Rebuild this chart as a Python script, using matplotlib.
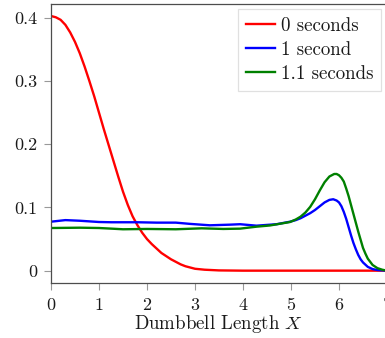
import matplotlib
matplotlib.use("Agg")
import matplotlib.pyplot as plt

plt.rcParams["font.family"] = "serif"
plt.rcParams["font.serif"] = ["cmr10", "DejaVu Serif"]
plt.rcParams["mathtext.fontset"] = "cm"
plt.rcParams["axes.unicode_minus"] = False

# Distribution of dumbbell length at three times
x_t0 = [0.0, 0.1, 0.2, 0.3, 0.4, 0.5, 0.6, 0.7, 0.8, 0.9, 1.0, 1.1, 1.2, 1.3,
        1.4, 1.5, 1.6, 1.7, 1.8, 1.9, 2.0, 2.1, 2.2, 2.3, 2.4, 2.5, 2.6, 2.7,
        2.8, 2.9, 3.0, 3.2, 3.5, 4.0, 7.0]
y_t0 = [0.403, 0.401, 0.397, 0.389, 0.377, 0.362, 0.344, 0.323, 0.300, 0.276,
        0.250, 0.224, 0.199, 0.174, 0.149, 0.125, 0.104, 0.086, 0.072, 0.060,
        0.050, 0.042, 0.035, 0.028, 0.023, 0.018, 0.014, 0.010, 0.007, 0.005,
        0.003, 0.0015, 0.0004, 0.0, 0.0]

x_t1 = [0.0, 0.3, 0.6, 1.0, 1.26, 1.8, 2.2, 2.6, 2.9, 3.31, 3.73, 3.94, 4.28,
        4.7, 4.98, 5.1, 5.2, 5.3, 5.4, 5.5, 5.6, 5.7, 5.8, 5.88, 5.95, 6.0,
        6.05, 6.1, 6.15, 6.2, 6.25, 6.3, 6.35, 6.4, 6.45, 6.5, 6.6, 6.7, 6.8,
        7.0]
y_t1 = [0.0775, 0.080, 0.079, 0.077, 0.0766, 0.0766, 0.076, 0.076, 0.074,
        0.0718, 0.0728, 0.0735, 0.0712, 0.0735, 0.0775, 0.080, 0.083, 0.087,
        0.091, 0.096, 0.102, 0.108, 0.112, 0.113, 0.111, 0.108, 0.102, 0.093,
        0.082, 0.069, 0.056, 0.044, 0.034, 0.025, 0.018, 0.013, 0.006, 0.0025,
        0.001, 0.0]

x_t11 = [0.0, 0.6, 1.0, 1.26, 1.5, 2.0, 2.6, 3.14, 3.59, 3.94, 4.28, 4.56,
         4.98, 5.1, 5.2, 5.3, 5.4, 5.5, 5.6, 5.7, 5.8, 5.9, 5.95, 6.0, 6.05,
         6.1, 6.15, 6.2, 6.25, 6.3, 6.35, 6.4, 6.45, 6.5, 6.55, 6.6, 6.7, 6.8,
         6.9, 7.0]
y_t11 = [0.0675, 0.068, 0.0675, 0.0665, 0.0655, 0.066, 0.0655, 0.067, 0.066,
         0.0665, 0.0696, 0.0715, 0.077, 0.081, 0.0855, 0.092, 0.101, 0.113,
         0.127, 0.140, 0.149, 0.153, 0.153, 0.151, 0.147, 0.141, 0.130, 0.118,
         0.104, 0.090, 0.076, 0.062, 0.049, 0.036, 0.027, 0.019, 0.009, 0.004,
         0.0015, 0.0]

series_labels = ["0 seconds", "1 second", "1.1 seconds"]
x_ticks = [0, 1, 2, 3, 4, 5, 6, 7]
y_ticks = [0, 0.1, 0.2, 0.3, 0.4]
y_tick_labels = ["0", "0.1", "0.2", "0.3", "0.4"]

fig = plt.figure(figsize=(3.85, 3.38), dpi=100)
ax = fig.add_axes([51 / 385, 1 - 283.3 / 338, 336 / 385, 279.3 / 338])

lw = 1.7
ax.plot(x_t0, y_t0, color="#ff0000", lw=lw, label=series_labels[0])
ax.plot(x_t1, y_t1, color="#0000ff", lw=lw, label=series_labels[1])
ax.plot(x_t11, y_t11, color="#008000", lw=lw, label=series_labels[2])

ax.set_xlim(0, 7)
ax.set_ylim(-0.02, 0.422)
ax.set_xticks(x_ticks)
ax.set_xticklabels([str(t) for t in x_ticks])
ax.set_yticks(y_ticks)
ax.set_yticklabels(y_tick_labels)

fs = 13
ax.tick_params(direction="out", length=5, width=0.8, color="0.6",
               labelsize=fs, pad=5, labelcolor="0.1")
for s in ax.spines.values():
    s.set_color("0.3")
    s.set_linewidth(0.9)

ax.set_xlabel("Dumbbell Length $X$", fontsize=13.6, labelpad=0, color="0.1")

leg = ax.legend(loc="upper left", bbox_to_anchor=(0.556, 0.982),
                fontsize=13.6, frameon=True, fancybox=False, handlelength=1.55,
                handletextpad=0.3, borderpad=0.42, labelspacing=0.32,
                borderaxespad=0.0)
leg.get_frame().set_edgecolor("0.85")
leg.get_frame().set_linewidth(0.9)
for t in leg.get_texts():
    t.set_color("0.1")

fig.savefig("out.png", dpi=100)
